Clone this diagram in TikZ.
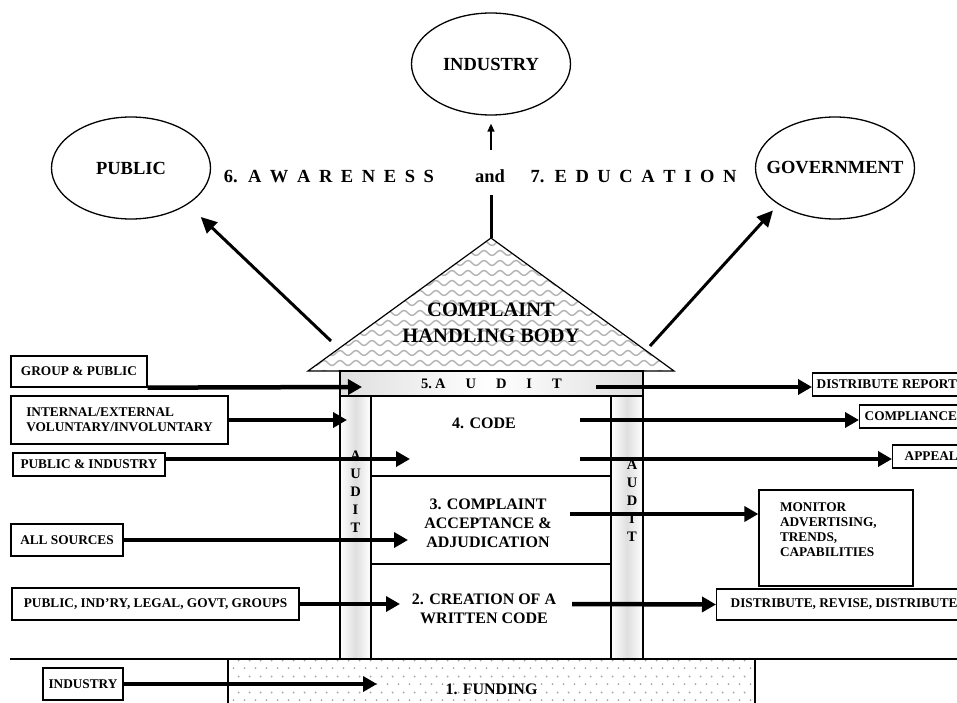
\documentclass[tikz,border=0pt]{standalone}
\usepackage{fontspec}
\setmainfont{Liberation Serif}
\usetikzlibrary{shapes.geometric, arrows.meta, patterns.meta, positioning}

% wavy fill of the roof
\tikzdeclarepattern{
  name=roofwaves,
  type=uncolored,
  bottom left={(-1pt,-5pt)},
  top right={(17pt,5pt)},
  tile size={(16pt,10pt)},
  code={
    \draw[line width=1.4pt] (0pt,0pt) sin (4pt,2.5pt) cos (8pt,0pt) sin (12pt,-2.5pt) cos (16pt,0pt);
  }
}
% staggered dots of the funding floor
\tikzdeclarepattern{
  name=fundots,
  type=uncolored,
  bottom left={(0pt,0pt)},
  top right={(11pt,16pt)},
  tile size={(11pt,16pt)},
  code={
    \fill (2.75pt,4pt) circle (1.1pt);
    \fill (8.25pt,12pt) circle (1.1pt);
  }
}

\begin{document}
\begin{tikzpicture}[x=1pt, y=-1pt,
	bigtxt/.style={font=\fontsize{18.5}{22}\selectfont\bfseries},
	spaced/.style={font={\fontsize{18.5}{22}\selectfont\bfseries\spaceskip=#1\relax}},
	boxtxt/.style={font=\fontsize{13.3}{15}\selectfont\bfseries},
	rowtxt/.style={font=\fontsize{16}{19}\selectfont\bfseries, align=center},
	colletters/.style={font=\fontsize{14.5}{18}\selectfont\bfseries, align=center, inner sep=0pt},
	oval/.style={draw, ellipse, line width=1.3pt, minimum width=159pt, minimum height=102pt, inner sep=0pt, bigtxt},
	srcbox/.style={draw, line width=1.3pt, boxtxt, inner sep=0pt},
	feed/.style={line width=4.5pt, -{Triangle[length=14pt, width=15pt]}},
	ray/.style={line width=3pt, -{Triangle[length=16pt, width=15pt]}},
	pillar/.style={draw, line width=1.5pt, inner sep=0pt, left color=white, right color=white, middle color=gray!25}
]
\useasboundingbox (0,0) rectangle (957,703);
\clip (0,0) rectangle (957,703);

% the three audiences
\node[oval] (industry) at (491,64) {INDUSTRY};
\node[oval] (public) at (131,168) {PUBLIC};
\node[oval] (govt) at (835,168) {\makebox[0pt]{GOVERNMENT}};

\node[spaced=8.6pt, anchor=base] (aware) at (329,183) {6. A W A R E N E S S};
\node[bigtxt, anchor=base] (and) at (490,183) {and};
\node[spaced=8.6pt, anchor=base] (educ) at (633.5,183) {7. E D U C A T I O N};

% roof
\coordinate (apex) at (491,238);
\coordinate (eaveL) at (308,371);
\coordinate (eaveR) at (674,371);
\coordinate (stem) at (491,195);
\coordinate (upfoot) at (491,150);
\draw[line width=1.2pt, pattern=roofwaves, pattern color=gray!60] (eaveL) -- (apex) -- (eaveR) -- cycle;
\node[font=\fontsize{20.5}{26}\selectfont\bfseries, align=center] (chb) at (491,323) {COMPLAINT\\HANDLING BODY};
\draw[line width=3pt] (apex) -- (stem);
\draw[line width=1.5pt, -{Triangle[length=8pt, width=7pt]}, shorten >=8pt] (upfoot) -- (industry);

\coordinate (rayL) at (331,341);
\coordinate (rayR) at (650,346);
\draw[ray, shorten >=18pt] (rayL) -- (public.south east);
\draw[ray, shorten >=8pt] (rayR) -- (govt.south west);

% house
\draw[line width=1.5pt, fill=white] (371,396) rectangle (611,659);
\draw[line width=1.2pt] (371,476) -- (611,476);
\draw[line width=1.2pt] (371,564) -- (611,564);
\node[pillar, minimum width=31pt, minimum height=263pt] (colL) at (355.5,527.5) {};
\node[pillar, minimum width=32pt, minimum height=263pt] (colR) at (627,527.5) {};
\node[pillar, left color=gray!25, right color=gray!25, middle color=white, minimum width=303pt, minimum height=25pt,
      font={\fontsize{14.5}{17}\selectfont\bfseries\spaceskip=20pt\relax}] (audit) at (491.5,383.5) {5.\kern3pt A U D I T};
\node[colletters] (auditL) at (355.5,491.5) {A\\U\\D\\I\\T};
\node[colletters] (auditR) at (632,501) {A\\U\\D\\I\\T};

\node[rowtxt] (code) at (484,423) {4. CODE};
\node[rowtxt] (adjud) at (488,523) {3. COMPLAINT\\ACCEPTANCE \&\\ADJUDICATION};
\node[rowtxt] (create) at (484,608.5) {2. CREATION OF A\\WRITTEN CODE};

% ground and funding
\draw[line width=1.3pt] (10,659) -- (957,659);
\node[draw, line width=1.3pt, pattern=fundots, pattern color=gray!70,
      minimum width=527pt, minimum height=60pt, inner sep=0pt, anchor=north,
      font=\fontsize{16}{19}\selectfont\bfseries] (fund) at (491.5,659) {1. FUNDING};

% sources
\node[srcbox, minimum width=136pt, minimum height=31pt] (grppub) at (79,371.5) {GROUP \& PUBLIC};
\node[srcbox, minimum width=217pt, minimum height=48pt, align=left] (intext) at (119.5,420) {INTERNAL/EXTERNAL\\VOLUNTARY/INVOLUNTARY};
\node[srcbox, minimum width=152pt, minimum height=23pt] (pubind) at (89,464.5) {PUBLIC \& INDUSTRY};
\node[srcbox, minimum width=112pt, minimum height=32pt] (allsrc) at (67,540) {ALL SOURCES};
\node[srcbox, minimum width=287pt, minimum height=32pt] (parties) at (155.5,604) {PUBLIC, IND’RY, LEGAL, GOVT, GROUPS};
\node[srcbox, minimum width=80pt, minimum height=32pt] (indsrc) at (83,684) {INDUSTRY};

% results
\node[srcbox, anchor=west, minimum height=23pt, inner xsep=4pt] (report) at (812,384.5) {DISTRIBUTE REPORT};
\node[srcbox, anchor=west, minimum height=23pt, inner xsep=5pt] (comply) at (859,416.5) {COMPLIANCE};
\node[srcbox, anchor=west, minimum height=23pt, inner xsep=12pt] (appeal) at (892,456.5) {APPEAL};
\node[srcbox, minimum width=154pt, minimum height=96pt, text width=112pt, align=left, text depth=61pt] (monitor) at (836,538) {MONITOR\\ADVERTISING,\\TRENDS,\\CAPABILITIES};
\node[srcbox, anchor=west, minimum height=31pt, inner xsep=14pt] (distrib) at (716,604.5) {DISTRIBUTE, REVISE, DISTRIBUTE};

% arrows in
\coordinate (in5) at (362,387);
\coordinate (inL) at (347,420);
\coordinate (in4) at (410,459);
\coordinate (in3) at (408,540);
\coordinate (in2) at (400,604);
\coordinate (in1) at (377,684);
\draw[feed] (grppub.south east) -- (in5);
\draw[feed] (intext.east) -- (inL);
\draw[feed] (pubind.east |- in4) -- (in4);
\draw[feed] (allsrc.east) -- (in3);
\draw[feed] (parties.east) -- (in2);
\draw[feed] (indsrc.east) -- (in1);

% arrows out
\coordinate (out5) at (596,387);
\coordinate (out4a) at (580,420);
\coordinate (out4b) at (580,459);
\coordinate (out3) at (570,514);
\coordinate (out2) at (572,604);
\draw[feed] (out5) -- (report.west |- out5);
\draw[feed] (out4a) -- (comply.west |- out4a);
\draw[feed] (out4b) -- (appeal.west |- out4b);
\draw[feed] (out3) -- (monitor.west |- out3);
\draw[feed] (out2) -- (distrib.west);
\end{tikzpicture}
\end{document}
